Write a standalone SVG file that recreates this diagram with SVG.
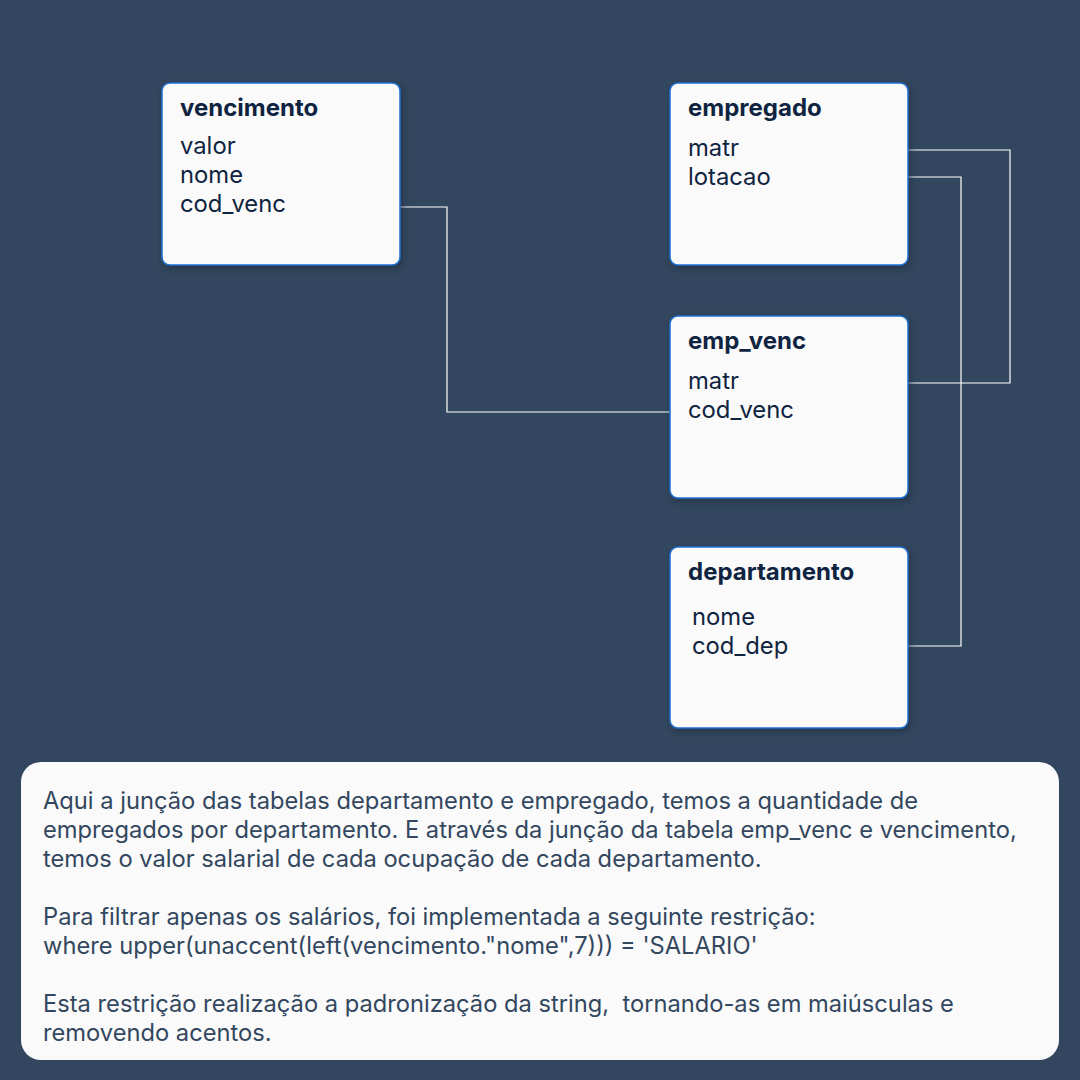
<svg xmlns="http://www.w3.org/2000/svg" width="1080" height="1080" viewBox="0 0 1080 1080">
<defs>
<filter id="sh" x="-10%" y="-10%" width="125%" height="125%">
<feDropShadow dx="2" dy="3" stdDeviation="3" flood-color="#1a2738" flood-opacity="0.6"/>
</filter>
<style>
.box{fill:#fafafa;stroke:#1f6fcf;stroke-width:1.5;filter:url(#sh)}
.t{font-family:Inter,"Noto Sans",sans-serif;font-weight:700;font-size:24px;fill:#0f2440}
.f{font-family:Inter,"Noto Sans",sans-serif;font-weight:400;font-size:23.8px;fill:#0f2440}
.c{fill:none;stroke:#ffffff;stroke-width:1.2}
.p{font-family:Inter,"Noto Sans",sans-serif;font-weight:400;font-size:23.7px;fill:#33475f}
</style>
</defs>
<rect width="1080" height="1080" fill="#32475f"/>
<g id="connectors">
<polyline class="c" points="400,207 447,207 447,412 670,412"/>
<polyline class="c" points="908,150 1010,150 1010,383 908,383"/>
<polyline class="c" points="908,177 961,177 961,646 908,646"/>
</g>
<g id="vencimento">
<rect class="box" x="162" y="83" width="238" height="182" rx="8"/>
<text class="t" x="180" y="116">vencimento</text>
<text class="f" x="180" y="154">valor</text>
<text class="f" x="180" y="183">nome</text>
<text class="f" x="180" y="212">cod_venc</text>
</g>
<g id="empregado">
<rect class="box" x="670" y="83" width="238" height="182" rx="8"/>
<text class="t" x="688" y="116">empregado</text>
<text class="f" x="688" y="156">matr</text>
<text class="f" x="688" y="185">lotacao</text>
</g>
<g id="emp_venc">
<rect class="box" x="670" y="316" width="238" height="182" rx="8"/>
<text class="t" x="688" y="349">emp_venc</text>
<text class="f" x="688" y="389">matr</text>
<text class="f" x="688" y="418">cod_venc</text>
</g>
<g id="departamento">
<rect class="box" x="670" y="547" width="238" height="181" rx="8"/>
<text class="t" x="688" y="580">departamento</text>
<text class="f" x="692" y="625">nome</text>
<text class="f" x="692" y="654">cod_dep</text>
</g>
<g id="nota">
<rect x="21" y="762" width="1038" height="298" rx="20" fill="#fafafa"/>
<text class="p" x="43" y="809">Aqui a junção das tabelas departamento e empregado, temos a quantidade de</text>
<text class="p" x="43" y="838">empregados por departamento. E através da junção da tabela emp_venc e vencimento,</text>
<text class="p" x="43" y="867">temos o valor salarial de cada ocupação de cada departamento.</text>
<text class="p" x="43" y="925">Para filtrar apenas os salários, foi implementada a seguinte restrição:</text>
<text class="p" x="43" y="954">where upper(unaccent(left(vencimento."nome",7))) = 'SALARIO'</text>
<text class="p" x="43" y="1012" xml:space="preserve">Esta restrição realização a padronização da string,  tornando-as em maiúsculas e</text>
<text class="p" x="43" y="1041">removendo acentos.</text>
</g>
</svg>
